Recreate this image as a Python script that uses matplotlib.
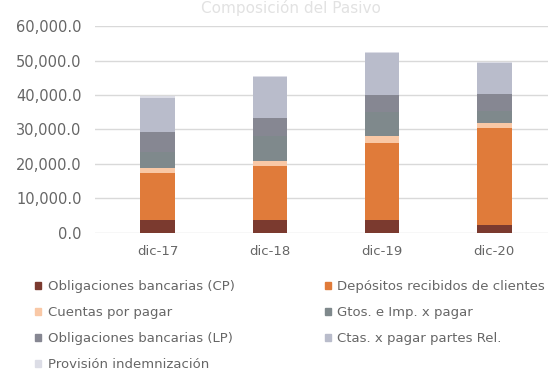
import matplotlib.pyplot as plt
import numpy as np
from matplotlib.patches import Patch

plt.rcParams['font.family'] = ['DejaVu Sans']

# data (miles)
periods = ["dic-17", "dic-18", "dic-19", "dic-20"]
oblig_cp = [3900, 3900, 3900, 2300]
depositos = [13500, 15600, 22200, 28000]
ctas_pagar = [1400, 1500, 1900, 1600]
gtos_imp = [4700, 7000, 7000, 3500]
oblig_lp = [5900, 5300, 5100, 4800]
ctas_rel = [9800, 11900, 12100, 9000]
provision = [400, 400, 400, 400]

series = [
    ("Obligaciones bancarias (CP)", oblig_cp, "#7b3a2f"),
    ("Depósitos recibidos de clientes", depositos, "#e07b3a"),
    ("Cuentas por pagar", ctas_pagar, "#f9c8a6"),
    ("Gtos. e Imp. x pagar", gtos_imp, "#7f898c"),
    ("Obligaciones bancarias (LP)", oblig_lp, "#868792"),
    ("Ctas. x pagar partes Rel.", ctas_rel, "#b9bccb"),
    ("Provisión indemnización", provision, "#dcdde6"),
]

fig = plt.figure(figsize=(5.48, 3.77), dpi=100)
ax = fig.add_axes([0.173, 0.382, 0.827, 0.549])

x = np.arange(len(periods))
bottom = np.zeros(len(periods))
for name, vals, color in series:
    ax.bar(x, vals, bottom=bottom, width=0.31, color=color, zorder=3)
    bottom += np.array(vals)

ax.set_ylim(0, 60000)
ax.set_xlim(-0.5625, 3.48)
ax.set_yticks(np.arange(0, 60001, 10000))
ax.set_yticklabels([f"{v:,.1f}" for v in np.arange(0, 60001, 10000)])
ax.set_xticks(x)
ax.set_xticklabels(periods)
ax.grid(axis='y', color='#d9d9d9', linewidth=1, zorder=0)
for s in ax.spines.values():
    s.set_visible(False)
ax.tick_params(axis='both', length=0, colors='#666666')
ax.tick_params(axis='y', pad=9.5, labelsize=10.5)
ax.tick_params(axis='x', pad=9, labelsize=9.5)

# faint title at the very top
fig.text(0.53, 0.978, "Composición del Pasivo", ha='center', va='center',
         fontsize=11, color='#e2e2e2')

# legend, two columns row-wise
handles = [Patch(color=c, label=n) for n, v, c in series]
left = [handles[0], handles[2], handles[4], handles[6]]
right = [handles[1], handles[3], handles[5]]
kw = dict(frameon=False, fontsize=9.5, handlelength=0.45, handleheight=0.45,
          handletextpad=0.5, labelspacing=0.98, labelcolor='#666666',
          loc='upper left', borderaxespad=0, borderpad=0)
fig.legend(handles=left, bbox_to_anchor=(0.064, 0.257), **kw)
fig.legend(handles=right, bbox_to_anchor=(0.593, 0.257), **kw)

fig.savefig("out.png", dpi=100)
